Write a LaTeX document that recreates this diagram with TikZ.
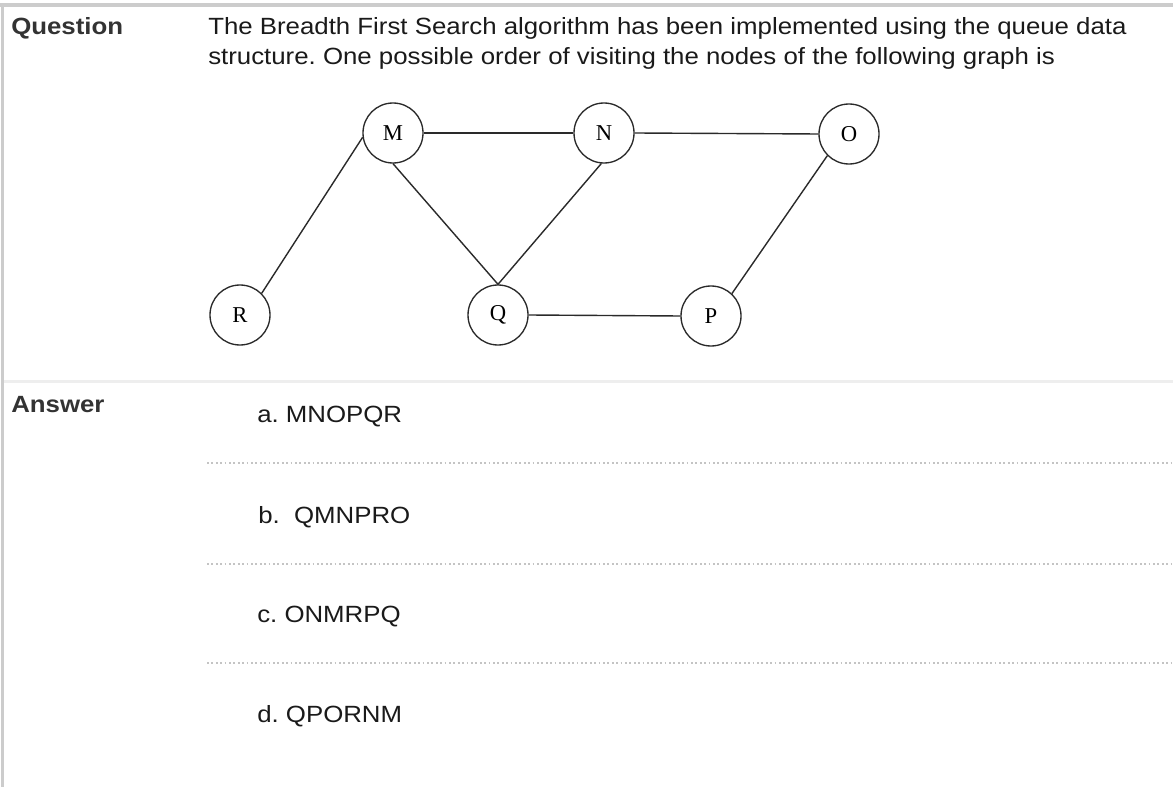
\documentclass[tikz,border=0pt]{standalone}
\usepackage{fontspec}
\setmainfont{Liberation Sans}[FakeStretch=1.1]
\newfontfamily\graphfont{Liberation Serif}
\definecolor{framegray}{HTML}{CCCCCC}
\definecolor{bandgray}{HTML}{EEEEEE}
\definecolor{dotgray}{HTML}{C4C4C4}
\definecolor{edgegray}{HTML}{2A2A2A}
\definecolor{textcol}{HTML}{1A1A1A}
\definecolor{headcol}{HTML}{333333}
\frenchspacing
\begin{document}
\begin{tikzpicture}[x=0.75pt,y=-0.75pt,
  vertex/.style={circle, draw=edgegray, line width=1pt, minimum size=45pt, inner sep=0pt,
    fill=white, text=black, font=\graphfont\fontsize{17}{17}\selectfont},
  edge/.style={draw=edgegray, line width=1.05pt},
  txt/.style={anchor=base west, inner sep=0pt, text=textcol, font=\fontsize{17.6}{20}\selectfont},
  heading/.style={anchor=base west, inner sep=0pt, text=headcol, font=\bfseries\fontsize{17.6}{20}\selectfont},
  sepdots/.style={draw=dotgray, line width=1.3pt, dash pattern=on 1.3pt off 2pt},
  framebar/.style={draw=framegray, line width=2.4pt},
]
\useasboundingbox (0,0) rectangle (1173,787);
\fill[white] (0,0) rectangle (1173,787);

% frame
\draw[framebar] (0,5) -- (1173,5);
\draw[framebar] (2.5,3.5) -- (2.5,787);
\fill[bandgray] (4,380) rectangle (1173,383.5);

% question
\node[heading] (qh) at (11,35) {Question};
\node[txt] (q1) at (208,35) {The Breadth First Search algorithm has been implemented using the queue data};
\node[txt] (q2) at (208,65) {structure. One possible order of visiting the nodes of the following graph is};

% graph
\node[vertex] (M) at (393,133) {M};
\node[vertex] (N) at (604,133) {N};
\node[vertex] (O) at (849,134) {O};
\node[vertex] (R) at (240,315) {R};
\node[vertex] (Q) at (498,315) {Q};
\node[vertex] (P) at (711,316) {P};

\draw[edge] (M.east) -- (N.west);
\draw[edge] (N.east) -- (O.west);
\draw[edge] (R.45) -- (M.188);
\draw[edge] (M.south) -- (Q.north);
\draw[edge] (N.265) -- (Q.north);
\draw[edge] (Q.east) -- (P.west);
\draw[edge] (O.225) -- (P.47);

% answer
\node[heading] (ah) at (11,412) {Answer};
\node[txt] (oa) at (257,422) {a. MNOPQR};
\node[txt] (ob) at (258,523) {b.\ \ QMNPRO};
\node[txt] (oc) at (257,622) {c. ONMRPQ};
\node[txt] (od) at (257,722) {d. QPORNM};

\coordinate (s1a) at (207,463); \coordinate (s1b) at (1173,463);
\coordinate (s2a) at (207,564); \coordinate (s2b) at (1173,564);
\coordinate (s3a) at (207,663); \coordinate (s3b) at (1173,663);
\draw[sepdots] (s1a) -- (s1b);
\draw[sepdots] (s2a) -- (s2b);
\draw[sepdots] (s3a) -- (s3b);
\end{tikzpicture}
\end{document}
